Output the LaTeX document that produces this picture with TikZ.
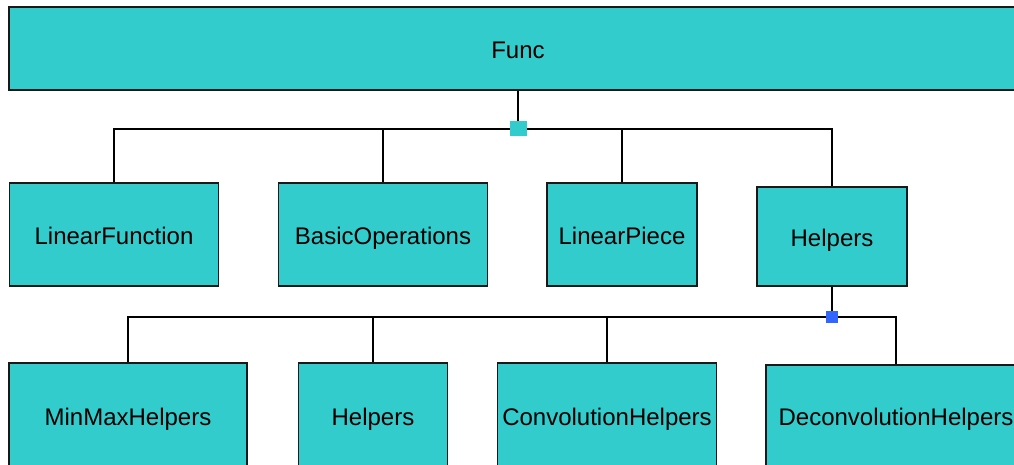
\documentclass[tikz,border=0pt]{standalone}
\usepackage{fontspec}
\setmainfont{Liberation Sans}
\definecolor{boxcyan}{HTML}{33CCCC}
\definecolor{junblue}{HTML}{3366FF}
\begin{document}
\begin{tikzpicture}[x=1pt,y=-1pt,
  box/.style={draw=black!90,line width=1.6pt,fill=boxcyan,rectangle,inner sep=0pt,
    font=\fontsize{24}{26}\selectfont,text height=20pt,text depth=0pt},
  lowbox/.style={box,text height=17pt},
  conn/.style={line width=1.8pt,draw=black},
  junc/.style={rectangle,inner sep=0pt,draw=none}]
\useasboundingbox (0,0) rectangle (1014,465);
\clip (0,0) rectangle (1014,465);
\node[box,minimum width=1018pt,minimum height=83pt] (func) at (518,48.5) {Func};
\node[box,minimum width=209pt,minimum height=103pt] (lf) at (114,234.5) {LinearFunction};
\node[box,minimum width=209pt,minimum height=103pt] (bo) at (383,234.5) {BasicOperations};
\node[box,minimum width=150pt,minimum height=103pt] (lp) at (622,234.5) {LinearPiece};
\node[box,minimum width=150pt,minimum height=99pt] (hel) at (832,236.5) {Helpers};
\node[lowbox,minimum width=238pt,minimum height=108pt] (mm) at (128,417) {MinMaxHelpers};
\node[lowbox,minimum width=149pt,minimum height=108pt] (hel2) at (373,417) {Helpers};
\node[lowbox,minimum width=219pt,minimum height=108pt] (conv) at (607,417) {ConvolutionHelpers};
\node[lowbox,minimum width=260pt,minimum height=104pt] (deconv) at (896,417) {DeconvolutionHelpers};
\coordinate (j1) at (518,129);
\coordinate (j2) at (832,317);
\draw[conn] (func.south) -- (j1);
\draw[conn] (lf.north) |- (j1) -| (hel.north);
\draw[conn] (bo.north) -- (bo.north |- j1);
\draw[conn] (lp.north) -- (lp.north |- j1);
\draw[conn] (hel.south) -- (j2);
\draw[conn] (mm.north) |- (j2) -| (deconv.north);
\draw[conn] (hel2.north) -- (hel2.north |- j2);
\draw[conn] (conv.north) -- (conv.north |- j2);
\node[junc,fill=boxcyan,minimum width=17pt,minimum height=15pt] (sq1) at (j1) {};
\node[junc,fill=junblue,minimum width=12pt,minimum height=12pt] (sq2) at (j2) {};
\end{tikzpicture}
\end{document}
